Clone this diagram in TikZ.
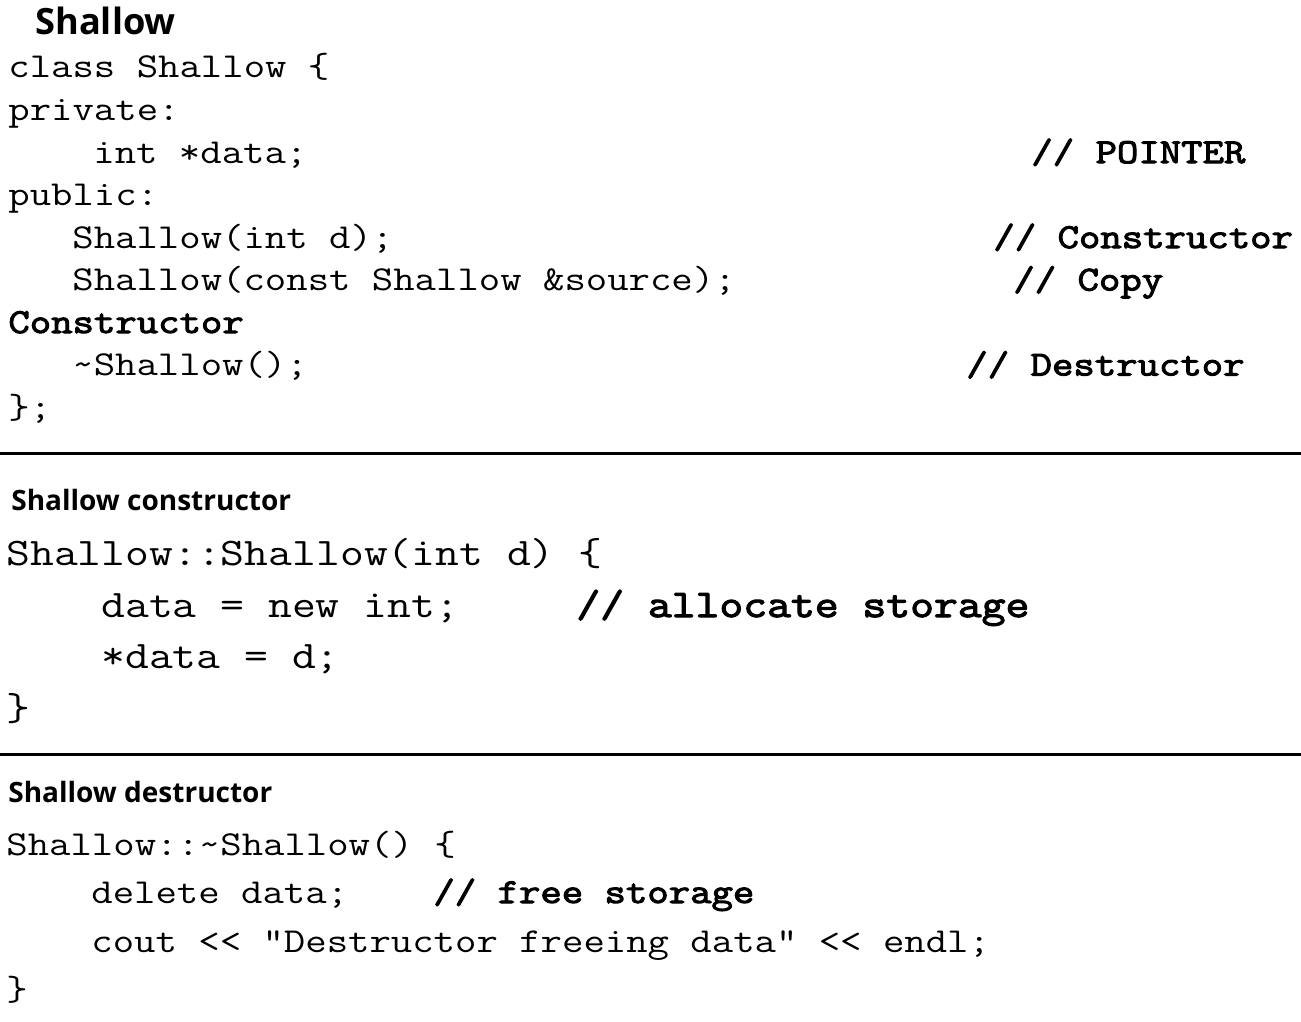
\documentclass[tikz,border=0pt]{standalone}
\usepackage{fontspec}
\setmainfont{Open Sans}
\newfontfamily\codefont[FakeStretch=1.187]{Latin Modern Mono}
\newfontfamily\codebold[FakeStretch=1.187, FakeBold=3]{Latin Modern Mono}
\usetikzlibrary{positioning}
\frenchspacing

\tikzset{
  code/.style={anchor=base west, inner sep=0pt, font=\codefont\fontsize{17.5}{20}\selectfont},
  note/.style={code, font=\codebold\fontsize{17.5}{20}\selectfont},
  bigcode/.style={code, font=\codefont\fontsize{19.5}{22}\selectfont},
  bignote/.style={code, font=\codebold\fontsize{19.5}{22}\selectfont},
  title/.style={anchor=base west, inner sep=0pt, font=\bfseries\fontsize{18.1}{20}\selectfont},
  subtitle/.style={title, font=\bfseries\fontsize{14}{16}\selectfont},
  rule/.style={line width=1.5pt}
}

\begin{document}
\begin{tikzpicture}[x=0.5pt, y=-0.5pt]
  \useasboundingbox (0,0) rectangle (1301,1022);

  % class declaration
  \node [title] (clsTitle) at (35,35) {Shallow};
  \node [code] (clsHead) at (8,78) {class Shallow \{};
  \node [code] (clsPriv) at (8,120.5) {private:};
  \node [code] (clsData) at (93,163) {int *data;};
  \node [code] (clsPub) at (8,205.5) {public:};
  \node [code] (clsCtor) at (72,248) {Shallow(int d);};
  \node [code] (clsCopy) at (72,290.5) {Shallow(const Shallow \&source);};
  \node [note] (clsWrap) at (8,333) {Constructor};
  \node [code] (clsDtor) at (72,375.5) {\char`\~Shallow();};
  \node [code] (clsEnd) at (8,418) {\};};
  \node [note] (noteData) at (1031,163) {// POINTER};
  \node [note] (noteCtor) at (993,248) {// Constructor};
  \node [note] (noteCopy) at (1013,290.5) {// Copy};
  \node [note] (noteDtor) at (966,375.5) {// Destructor};

  \coordinate (ruleAw) at (0,453.5);
  \coordinate (ruleAe) at (1301,453.5);
  \draw [rule] (ruleAw) -- (ruleAe);

  % constructor
  \node [subtitle] (ctorTitle) at (11,510) {Shallow constructor};
  \node [bigcode] (ctorHead) at (6,565) {Shallow::Shallow(int d) \{};
  \node [bigcode] (ctorNew) at (101,617) {data = new int;};
  \node [bigcode] (ctorSet) at (101,668) {*data = d;};
  \node [bigcode] (ctorEnd) at (6,720) {\}};
  \node [bignote] (noteNew) at (576,617) {// allocate storage};

  \coordinate (ruleBw) at (0,754);
  \coordinate (ruleBe) at (1301,754);
  \draw [rule] (ruleBw) -- (ruleBe);

  % destructor
  \node [subtitle] (dtorTitle) at (8,802) {Shallow destructor};
  \node [code] (dtorHead) at (6,855) {Shallow::\char`\~Shallow() \{};
  \node [code] (dtorDel) at (91,903) {delete data;};
  \node [code] (dtorOut) at (91,952) {cout << "Destructor freeing data" << endl;};
  \node [code] (dtorEnd) at (6,1000) {\}};
  \node [note] (noteDel) at (433,903) {// free storage};
\end{tikzpicture}
\end{document}
